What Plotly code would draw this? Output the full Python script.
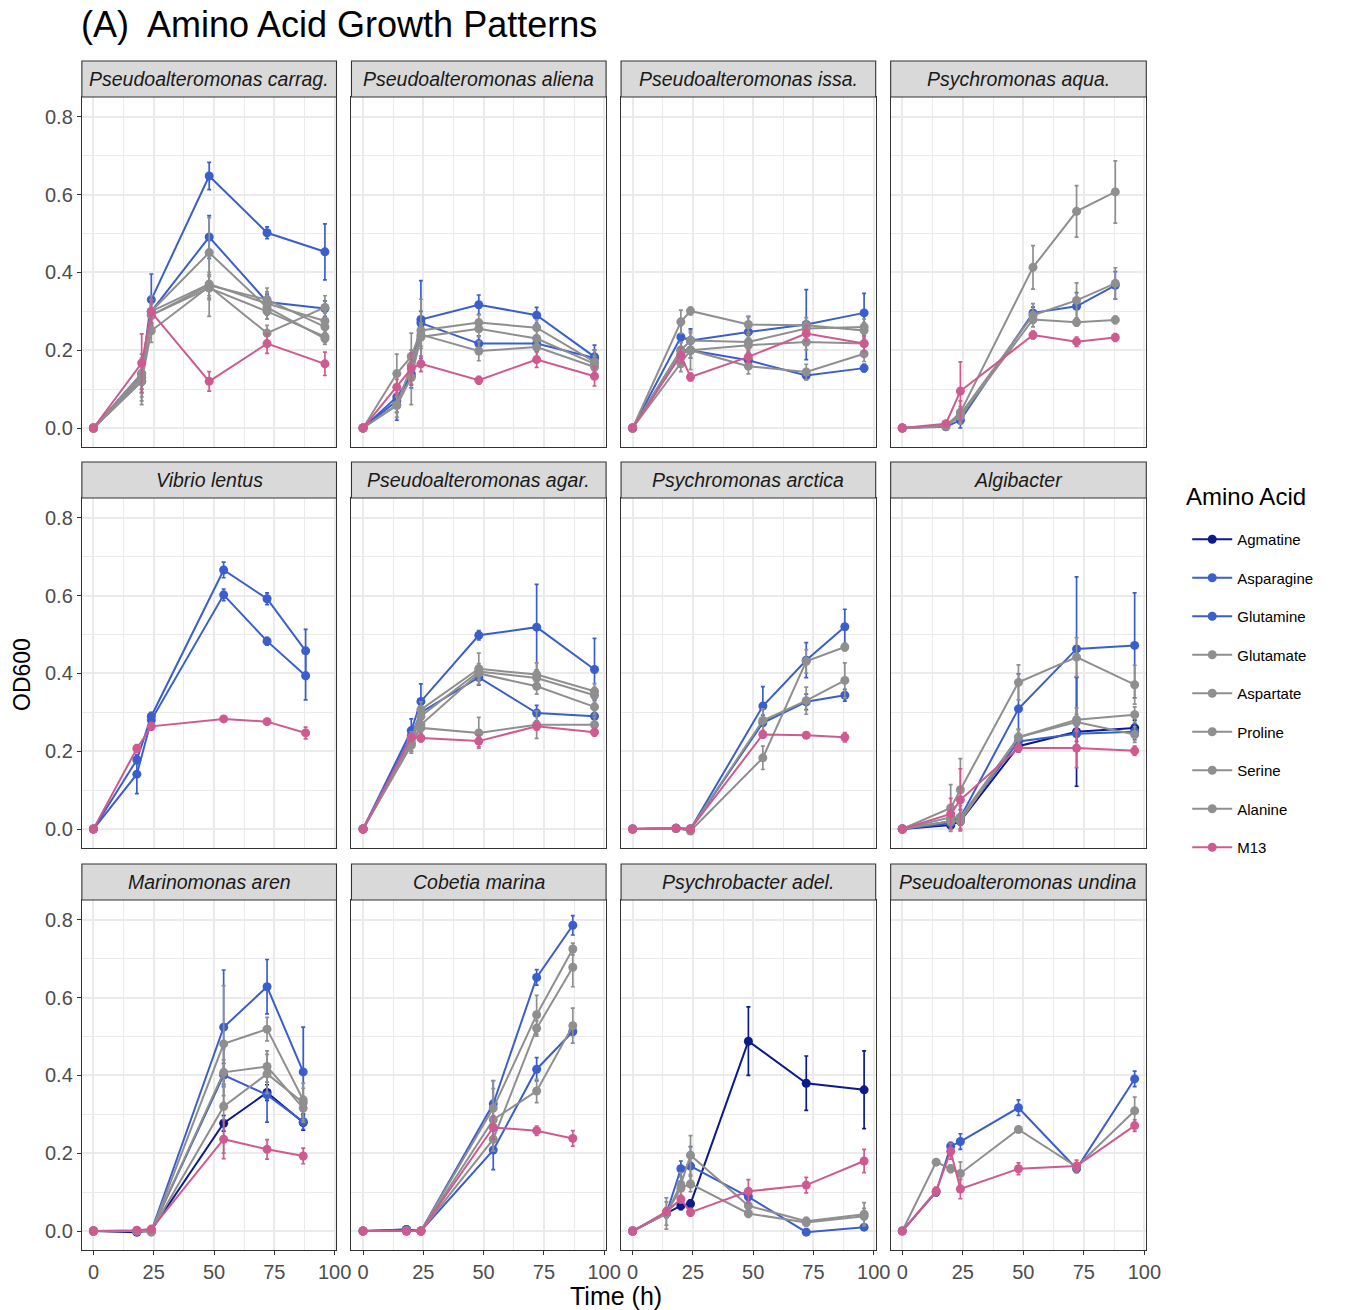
import plotly.graph_objects as go

# ---------------- data ----------------
AMINO_ACIDS = ["Agmatine", "Asparagine", "Glutamine", "Glutamate", "Aspartate",
               "Proline", "Serine", "Alanine", "M13"]

FACETS = ["Pseudoalteromonas carrag.", "Pseudoalteromonas aliena", "Pseudoalteromonas issa.",
          "Psychromonas aqua.", "Vibrio lentus", "Pseudoalteromonas agar.",
          "Psychromonas arctica", "Algibacter", "Marinomonas aren", "Cobetia marina",
          "Psychrobacter adel.", "Pseudoalteromonas undina"]

X_TICKS = [0, 25, 50, 75, 100]
Y_TICKS = [0.0, 0.2, 0.4, 0.6, 0.8]

# Panel 1: Pseudoalteromonas carrag.
CARRAG_TIME = [0, 20, 24, 48, 72, 96]
CARRAG_OD = {
    "Asparagine": [0, 0.14, 0.33, 0.648, 0.502, 0.453],
    "Glutamine": [0, 0.13, 0.30, 0.491, 0.324, 0.307],
    "Glutamate": [0, 0.12, 0.30, 0.451, 0.31, 0.23],
    "Aspartate": [0, 0.13, 0.29, 0.367, 0.33, 0.26],
    "Proline": [0, 0.12, 0.25, 0.364, 0.244, 0.31],
    "Serine": [0, 0.14, 0.30, 0.37, 0.32, 0.275],
    "Alanine": [0, 0.12, 0.29, 0.36, 0.30, 0.235],
    "M13": [0, 0.167, 0.298, 0.12, 0.217, 0.165],
}
CARRAG_SD = {
    "Asparagine": [0, 0.03, 0.066, 0.035, 0.015, 0.072],
    "Glutamine": [0, 0.03, 0.03, 0.055, 0.02, 0.02],
    "Glutamate": [0, 0.05, 0.04, 0.09, 0.03, 0.015],
    "Aspartate": [0, 0.04, 0.03, 0.08, 0.03, 0.02],
    "Proline": [0, 0.04, 0.03, 0.03, 0.02, 0.03],
    "Serine": [0, 0.05, 0.03, 0.03, 0.03, 0.02],
    "Alanine": [0, 0.06, 0.03, 0.03, 0.02, 0.015],
    "M13": [0, 0.075, 0.03, 0.025, 0.025, 0.03],
}

# Panel 2: Pseudoalteromonas aliena
ALIENA_TIME = [0, 14, 20, 24, 48, 72, 96]
ALIENA_OD = {
    "Asparagine": [0, 0.08, 0.133, 0.279, 0.317, 0.29, 0.183],
    "Glutamine": [0, 0.07, 0.14, 0.27, 0.217, 0.217, 0.18],
    "Glutamate": [0, 0.14, 0.184, 0.251, 0.271, 0.258, 0.17],
    "Aspartate": [0, 0.058, 0.13, 0.234, 0.255, 0.23, 0.165],
    "Proline": [0, 0.06, 0.16, 0.24, 0.198, 0.208, 0.157],
    "M13": [0, 0.105, 0.153, 0.165, 0.123, 0.176, 0.133],
}
ALIENA_SD = {
    "Asparagine": [0, 0.06, 0.03, 0.1, 0.025, 0.02, 0.03],
    "Glutamine": [0, 0.03, 0.03, 0.03, 0.02, 0.02, 0.02],
    "Glutamate": [0, 0.05, 0.06, 0.08, 0.02, 0.02, 0.03],
    "Aspartate": [0, 0.03, 0.07, 0.03, 0.02, 0.02, 0.02],
    "Proline": [0, 0.02, 0.03, 0.03, 0.025, 0.03, 0.02],
    "M13": [0, 0.02, 0.04, 0.02, 0.01, 0.02, 0.025],
}

# Panel 3: Pseudoalteromonas issa.
ISSA_TIME = [0, 20, 24, 48, 72, 96]
ISSA_OD = {
    "Asparagine": [0, 0.234, 0.225, 0.247, 0.266, 0.296],
    "Glutamine": [0, 0.20, 0.20, 0.174, 0.135, 0.154],
    "Glutamate": [0, 0.273, 0.301, 0.266, 0.264, 0.251],
    "Aspartate": [0, 0.20, 0.225, 0.221, 0.256, 0.26],
    "Proline": [0, 0.19, 0.20, 0.213, 0.221, 0.217],
    "Serine": [0, 0.165, 0.20, 0.159, 0.144, 0.191],
    "M13": [0, 0.187, 0.131, 0.183, 0.243, 0.217],
}
ISSA_SD = {
    "Asparagine": [0, 0.03, 0.03, 0.04, 0.09, 0.05],
    "Glutamine": [0, 0.02, 0.02, 0.02, 0.01, 0.01],
    "Glutamate": [0, 0.03, 0.01, 0.02, 0.02, 0.02],
    "Aspartate": [0, 0.02, 0.02, 0.02, 0.02, 0.02],
    "Proline": [0, 0.02, 0.02, 0.02, 0.02, 0.02],
    "Serine": [0, 0.02, 0.05, 0.02, 0.02, 0.02],
    "M13": [0, 0.02, 0.01, 0.015, 0.02, 0.02],
}

# Panel 4: Psychromonas aqua.
AQUA_TIME = [0, 18, 24, 54, 72, 88]
AQUA_OD = {
    "Asparagine": [0, 0.003, 0.02, 0.296, 0.313, 0.367],
    "Glutamate": [0, 0.005, 0.04, 0.413, 0.557, 0.607],
    "Aspartate": [0, 0.005, 0.035, 0.29, 0.328, 0.372],
    "Proline": [0, 0.005, 0.03, 0.279, 0.272, 0.278],
    "M13": [0, 0.011, 0.095, 0.239, 0.222, 0.233],
}
AQUA_SD = {
    "Asparagine": [0, 0.003, 0.02, 0.015, 0.035, 0.035],
    "Glutamate": [0, 0.003, 0.03, 0.056, 0.066, 0.08],
    "Aspartate": [0, 0.003, 0.02, 0.03, 0.045, 0.04],
    "Proline": [0, 0.003, 0.02, 0.01, 0.01, 0.01],
    "M13": [0, 0.003, 0.075, 0.01, 0.012, 0.01],
}

# Panel 5: Vibrio lentus
VIBRIO_TIME = [0, 18, 24, 54, 72, 88]
VIBRIO_OD = {
    "Asparagine": [0, 0.178, 0.29, 0.666, 0.592, 0.458],
    "Glutamine": [0, 0.141, 0.28, 0.602, 0.483, 0.394],
    "M13": [0, 0.207, 0.264, 0.283, 0.276, 0.247],
}
VIBRIO_SD = {
    "Asparagine": [0, 0.01, 0.01, 0.02, 0.015, 0.055],
    "Glutamine": [0, 0.05, 0.015, 0.015, 0.01, 0.062],
    "M13": [0, 0.01, 0.01, 0.008, 0.008, 0.015],
}

# Panel 6: Pseudoalteromonas agar.
AGAR_TIME = [0, 20, 24, 48, 72, 96]
AGAR_OD = {
    "Asparagine": [0, 0.253, 0.328, 0.498, 0.519, 0.41],
    "Glutamine": [0, 0.24, 0.30, 0.39, 0.298, 0.29],
    "Glutamate": [0, 0.23, 0.307, 0.412, 0.397, 0.354],
    "Aspartate": [0, 0.22, 0.29, 0.405, 0.388, 0.344],
    "Proline": [0, 0.215, 0.268, 0.40, 0.367, 0.314],
    "Serine": [0, 0.22, 0.26, 0.247, 0.268, 0.268],
    "M13": [0, 0.236, 0.234, 0.226, 0.264, 0.249],
}
AGAR_SD = {
    "Asparagine": [0, 0.03, 0.045, 0.012, 0.11, 0.08],
    "Glutamine": [0, 0.02, 0.02, 0.02, 0.02, 0.015],
    "Glutamate": [0, 0.02, 0.02, 0.04, 0.03, 0.02],
    "Aspartate": [0, 0.02, 0.02, 0.02, 0.02, 0.02],
    "Proline": [0, 0.02, 0.02, 0.02, 0.02, 0.02],
    "Serine": [0, 0.02, 0.02, 0.04, 0.035, 0.02],
    "M13": [0, 0.01, 0.01, 0.015, 0.01, 0.01],
}

# Panel 7: Psychromonas arctica
ARCTICA_TIME = [0, 18, 24, 54, 72, 88]
ARCTICA_OD = {
    "Asparagine": [0, 0.002, 0.0, 0.316, 0.434, 0.52],
    "Glutamine": [0, 0.002, 0.0, 0.273, 0.327, 0.344],
    "Glutamate": [0, 0.002, -0.005, 0.183, 0.431, 0.468],
    "Aspartate": [0, 0.002, 0.0, 0.279, 0.33, 0.382],
    "M13": [0, 0.002, 0.0, 0.243, 0.241, 0.236],
}
ARCTICA_SD = {
    "Asparagine": [0, 0.002, 0.002, 0.05, 0.045, 0.045],
    "Glutamine": [0, 0.002, 0.002, 0.02, 0.02, 0.015],
    "Glutamate": [0, 0.002, 0.002, 0.03, 0.03, 0.01],
    "Aspartate": [0, 0.002, 0.002, 0.03, 0.035, 0.045],
    "M13": [0, 0.002, 0.002, 0.008, 0.006, 0.012],
}

# Panel 8: Algibacter
ALGI_TIME = [0, 20, 24, 48, 72, 96]
ALGI_OD = {
    "Agmatine": [0, 0.01, 0.02, 0.213, 0.25, 0.26],
    "Asparagine": [0, 0.02, 0.03, 0.309, 0.463, 0.472],
    "Glutamine": [0, 0.015, 0.025, 0.225, 0.245, 0.25],
    "Glutamate": [0, 0.054, 0.101, 0.377, 0.442, 0.371],
    "Aspartate": [0, 0.03, 0.03, 0.236, 0.281, 0.294],
    "Proline": [0, 0.02, 0.02, 0.236, 0.275, 0.243],
    "M13": [0, 0.039, 0.075, 0.208, 0.208, 0.201],
}
ALGI_SD = {
    "Agmatine": [0, 0.01, 0.01, 0.015, 0.14, 0.02],
    "Asparagine": [0, 0.01, 0.02, 0.09, 0.185, 0.135],
    "Glutamine": [0, 0.01, 0.01, 0.02, 0.02, 0.02],
    "Glutamate": [0, 0.06, 0.08, 0.045, 0.05, 0.05],
    "Aspartate": [0, 0.02, 0.03, 0.02, 0.03, 0.02],
    "Proline": [0, 0.02, 0.02, 0.02, 0.02, 0.02],
    "M13": [0, 0.04, 0.08, 0.01, 0.05, 0.012],
}

# Panel 9: Marinomonas aren
MARINO_TIME = [0, 18, 24, 54, 72, 87]
MARINO_OD = {
    "Agmatine": [0, -0.003, 0.002, 0.277, 0.356, 0.279],
    "Asparagine": [0, 0.0, 0.0, 0.524, 0.628, 0.409],
    "Glutamine": [0, 0.0, 0.0, 0.401, 0.35, 0.281],
    "Glutamate": [0, 0.0, -0.003, 0.481, 0.519, 0.337],
    "Aspartate": [0, 0.0, 0.0, 0.408, 0.423, 0.316],
    "Proline": [0, 0.0, 0.0, 0.32, 0.404, 0.33],
    "M13": [0, 0.002, 0.005, 0.236, 0.21, 0.193],
}
MARINO_SD = {
    "Agmatine": [0, 0.003, 0.003, 0.02, 0.02, 0.02],
    "Asparagine": [0, 0.003, 0.003, 0.147, 0.07, 0.115],
    "Glutamine": [0, 0.003, 0.003, 0.03, 0.07, 0.02],
    "Glutamate": [0, 0.003, 0.003, 0.15, 0.03, 0.03],
    "Aspartate": [0, 0.003, 0.003, 0.06, 0.04, 0.03],
    "Proline": [0, 0.003, 0.003, 0.12, 0.05, 0.05],
    "M13": [0, 0.003, 0.003, 0.05, 0.025, 0.02],
}

# Panel 10: Cobetia marina
COBETIA_TIME = [0, 18, 24, 54, 72, 87]
COBETIA_OD = {
    "Asparagine": [0, 0.004, 0.0, 0.327, 0.652, 0.786],
    "Glutamine": [0, 0.004, 0.0, 0.208, 0.416, 0.513],
    "Glutamate": [0, 0.0, 0.0, 0.316, 0.556, 0.725],
    "Aspartate": [0, 0.0, 0.0, 0.236, 0.521, 0.678],
    "Proline": [0, 0.0, 0.0, 0.286, 0.36, 0.528],
    "M13": [0, 0.0, 0.0, 0.266, 0.258, 0.238],
}
COBETIA_SD = {
    "Asparagine": [0, 0.003, 0.003, 0.06, 0.02, 0.025],
    "Glutamine": [0, 0.003, 0.003, 0.05, 0.03, 0.01],
    "Glutamate": [0, 0.003, 0.003, 0.07, 0.05, 0.015],
    "Aspartate": [0, 0.003, 0.003, 0.03, 0.02, 0.05],
    "Proline": [0, 0.003, 0.003, 0.08, 0.03, 0.045],
    "M13": [0, 0.003, 0.003, 0.03, 0.012, 0.02],
}

# Panel 11: Psychrobacter adel.
ADEL_TIME = [0, 14, 20, 24, 48, 72, 96]
ADEL_OD = {
    "Agmatine": [0, 0.045, 0.065, 0.07, 0.488, 0.38, 0.363],
    "Glutamine": [0, 0.045, 0.16, 0.167, 0.088, -0.003, 0.01],
    "Glutamate": [0, 0.045, 0.12, 0.195, 0.065, 0.025, 0.043],
    "Aspartate": [0, 0.045, 0.11, 0.121, 0.045, 0.022, 0.038],
    "M13": [0, 0.05, 0.082, 0.048, 0.102, 0.118, 0.18],
}
ADEL_SD = {
    "Agmatine": [0, 0.01, 0.01, 0.01, 0.088, 0.07, 0.1],
    "Glutamine": [0, 0.01, 0.02, 0.05, 0.01, 0.005, 0.005],
    "Glutamate": [0, 0.04, 0.03, 0.05, 0.01, 0.01, 0.03],
    "Aspartate": [0, 0.03, 0.03, 0.02, 0.01, 0.01, 0.02],
    "M13": [0, 0.01, 0.01, 0.01, 0.03, 0.02, 0.03],
}

# Panel 12: Pseudoalteromonas undina
UNDINA_TIME = [0, 14, 20, 24, 48, 72, 96]
UNDINA_OD = {
    "Asparagine": [0, 0.1, 0.218, 0.23, 0.317, 0.16, 0.391],
    "Glutamate": [0, 0.177, 0.16, 0.148, 0.261, 0.165, 0.309],
    "M13": [0, 0.103, 0.205, 0.108, 0.16, 0.167, 0.271],
}
UNDINA_SD = {
    "Asparagine": [0, 0.01, 0.01, 0.02, 0.02, 0.01, 0.02],
    "Glutamate": [0, 0.005, 0.01, 0.03, 0.005, 0.01, 0.035],
    "M13": [0, 0.01, 0.02, 0.025, 0.015, 0.015, 0.015],
}

PANEL_DATA = [
    (CARRAG_TIME, CARRAG_OD, CARRAG_SD),
    (ALIENA_TIME, ALIENA_OD, ALIENA_SD),
    (ISSA_TIME, ISSA_OD, ISSA_SD),
    (AQUA_TIME, AQUA_OD, AQUA_SD),
    (VIBRIO_TIME, VIBRIO_OD, VIBRIO_SD),
    (AGAR_TIME, AGAR_OD, AGAR_SD),
    (ARCTICA_TIME, ARCTICA_OD, ARCTICA_SD),
    (ALGI_TIME, ALGI_OD, ALGI_SD),
    (MARINO_TIME, MARINO_OD, MARINO_SD),
    (COBETIA_TIME, COBETIA_OD, COBETIA_SD),
    (ADEL_TIME, ADEL_OD, ADEL_SD),
    (UNDINA_TIME, UNDINA_OD, UNDINA_SD),
]

# ---------------- style ----------------
NAVY = "#0B1A8C"
BLUE = "#3A5FCD"
GRAY = "#8F8F8F"
PINK = "#CF5A8F"
COLORS = {"Agmatine": NAVY, "Asparagine": BLUE, "Glutamine": BLUE, "Glutamate": GRAY,
          "Aspartate": GRAY, "Proline": GRAY, "Serine": GRAY, "Alanine": GRAY, "M13": PINK}

W, H = 1349, 1310
WX = 1336  # effective horizontal width used for paper-fraction conversion
COL_X = [(82, 337), (352, 607), (622, 877), (892, 1148)]
ROW_Y = [(97, 447), (498, 848), (900, 1250)]
STRIP_H = 36
X_RANGE = [-4.8, 100.8]
Y_RANGE = [-0.0488, 0.851]
FONT = "Liberation Sans, Arial, Helvetica, sans-serif"
TICK_FONT = dict(family=FONT, size=20, color="#4D4D4D")
GRID = "#EBEBEB"
BORDER = "#333333"

fig = go.Figure()

# legend-only entries (in legend order)
for aa in AMINO_ACIDS:
    fig.add_trace(go.Scatter(
        x=[None], y=[None], mode="lines+markers", name=aa, legendgroup=aa,
        line=dict(color=COLORS[aa], width=2), marker=dict(color=COLORS[aa], size=9),
        showlegend=True, xaxis="x", yaxis="y"))

shapes, annotations = [], []
layout_axes = {}

for k, (t, od, sd) in enumerate(PANEL_DATA):
    r, c = divmod(k, 4)
    suf = "" if k == 0 else str(k + 1)
    for aa in AMINO_ACIDS:
        if aa not in od:
            continue
        col = COLORS[aa]
        fig.add_trace(go.Scatter(
            x=t, y=od[aa], mode="lines+markers", name=aa, legendgroup=aa,
            showlegend=False,
            line=dict(color=col, width=2),
            marker=dict(color=col, size=9),
            error_y=dict(type="data", array=sd[aa], color=col, thickness=1.7, width=2),
            xaxis="x" + suf, yaxis="y" + suf))
    x0, x1 = COL_X[c]
    y0, y1 = ROW_Y[r]
    bottom = (r == 2)
    left = (c == 0)
    layout_axes["xaxis" + suf] = dict(
        domain=[x0 / WX, x1 / WX], anchor="y" + suf, range=X_RANGE,
        tickvals=X_TICKS, showticklabels=bottom, ticks="outside" if bottom else "",
        ticklen=4, tickcolor=BORDER, tickwidth=1, tickfont=TICK_FONT,
        showgrid=True, gridcolor=GRID, gridwidth=1.6,
        minor=dict(tickvals=[12.5, 37.5, 62.5, 87.5], showgrid=True, gridcolor=GRID,
                   gridwidth=0.8, ticks=""),
        zeroline=False, showline=True, mirror=True, linecolor=BORDER, linewidth=1.1,
        fixedrange=True)
    layout_axes["yaxis" + suf] = dict(
        domain=[1 - y1 / H, 1 - y0 / H], anchor="x" + suf, range=Y_RANGE,
        tickvals=Y_TICKS, tickformat=".1f", showticklabels=left,
        ticks="outside" if left else "", ticklen=4, tickcolor=BORDER, tickwidth=1,
        tickfont=TICK_FONT,
        showgrid=True, gridcolor=GRID, gridwidth=1.6,
        minor=dict(tickvals=[0.1, 0.3, 0.5, 0.7], showgrid=True, gridcolor=GRID,
                   gridwidth=0.8, ticks=""),
        zeroline=False, showline=True, mirror=True, linecolor=BORDER, linewidth=1.1,
        fixedrange=True)
    # strip
    shapes.append(dict(type="rect", xref="paper", yref="paper",
                       x0=x0 / WX, x1=x1 / WX, y0=1 - y0 / H, y1=1 - (y0 - STRIP_H) / H,
                       fillcolor="#D9D9D9", line=dict(color=BORDER, width=1.1), layer="above"))
    annotations.append(dict(text="<i>" + FACETS[k] + "</i>", xref="paper", yref="paper",
                            x=(x0 + x1) / 2 / WX, y=1 - (y0 - STRIP_H / 2) / H,
                            showarrow=False, xanchor="center", yanchor="middle",
                            font=dict(family=FONT, size=19.5, color="#1A1A1A")))

annotations += [
    dict(text="(A)  Amino Acid Growth Patterns", xref="paper", yref="paper",
         x=79 / WX, y=1 - 24 / H, xanchor="left", yanchor="middle", showarrow=False,
         font=dict(family=FONT, size=36, color="#000000")),
    dict(text="OD600", xref="paper", yref="paper", x=22 / WX, y=1 - 674 / H,
         textangle=-90, xanchor="center", yanchor="middle", showarrow=False,
         font=dict(family=FONT, size=23, color="#000000")),
    dict(text="Time (h)", xref="paper", yref="paper", x=617 / WX, y=1 - 1296 / H,
         xanchor="center", yanchor="middle", showarrow=False,
         font=dict(family=FONT, size=25, color="#000000")),
    dict(text="Amino Acid", xref="paper", yref="paper", x=1186 / WX, y=1 - 497 / H,
         xanchor="left", yanchor="middle", showarrow=False,
         font=dict(family=FONT, size=24, color="#000000")),
]

fig.update_layout(
    width=W, height=H, autosize=False, margin=dict(l=0, r=0, t=0, b=0),
    paper_bgcolor="white", plot_bgcolor="white",
    font=dict(family=FONT, color="#000000"),
    shapes=shapes, annotations=annotations,
    legend=dict(x=1189 / WX, y=1 - 523 / H, xanchor="left", yanchor="top",
                font=dict(family=FONT, size=15, color="#000000"),
                tracegroupgap=16, itemwidth=40, bgcolor="rgba(0,0,0,0)"),
    **layout_axes,
)

fig.write_html("out.html")
